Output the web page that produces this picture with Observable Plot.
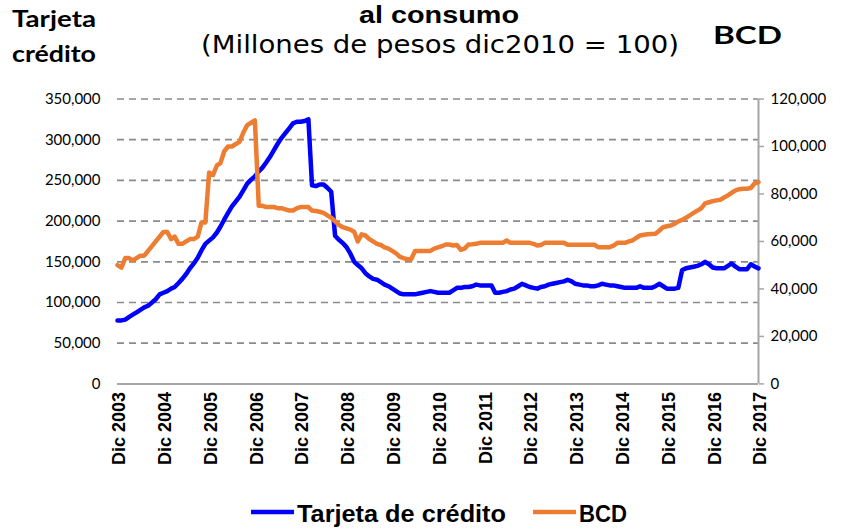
<!DOCTYPE html>
<html><head><meta charset="utf-8">
<script src="https://cdn.jsdelivr.net/npm/d3@7"></script>
<script src="https://cdn.jsdelivr.net/npm/@observablehq/plot@0.6"></script>
<style>
body{margin:0;background:#fff;}
#wrap{position:relative;width:849px;height:529px;overflow:hidden;background:#fff;}
#chart{position:absolute;left:0;top:0;}
#over{position:absolute;left:0;top:0;}
</style></head><body>
<div id="wrap"><div id="chart"></div><svg id="over" width="849" height="529"></svg></div>
<script>
// Monthly series, Dic 2003 .. Dic 2017 (values in thousands of millions of pesos)
const startYear = 2003, startMonth = 11;
const tarjeta = [78,
  78,79,82,85,88,91,94,96,100,104,110,112,
  114,117,119,124,129,135,142,148,155,164,172,176,
  180,186,193,202,210,218,224,230,238,246,251,255,
  261,266,272,279,287,295,302,308,314,320,322,322,
  323,325,244,243,245,245,241,236,182,177,173,168,
  160,150,146,142,136,132,129,128,125,122,120,117,
  114,111,110,110,110,110,111,112,113,114,113,112,
  112,112,112,115,118,118,119,119,120,122,121,121,
  121,121,112,112,113,114,116,117,120,123,121,119,
  118,117,119,120,122,123,124,125,126,128,126,123,
  122,121,121,120,120,121,123,122,121,121,120,119,
  118,118,118,118,120,118,118,118,120,123,120,117,
  117,117,118,140,142,143,144,145,147,150,147,143,
  142,142,142,145,148,144,141,141,141,147,144,142];
const bcd = [50,
  49,53,53,52,53,54,54,56,58,60,62,64,
  64,61,62,59,59,60,61,61,62,68,68,89,
  88,92,93,98,100,100,101,102,106,109,110,111,
  75,75,74.5,74.5,74.5,74,74,73.5,73,73,74,74.5,
  74.5,74.5,73,72.8,72.5,72,71,70,68.5,67,66,65.5,
  65,64,60,63,62.5,61,60,59,58.5,57.5,57,56,
  55,53.5,53,52.5,52.5,56,56,56,56,56,57,57.5,
  58,58.7,58.7,58.3,58.5,56.5,57,58.7,58.8,59,59.4,59.4,
  59.4,59.4,59.4,59.4,59.4,60.4,59.4,59.4,59.4,59.4,59.4,59.4,
  59,58.3,58.5,59.4,59.4,59.4,59.4,59.4,59.4,58.6,58.6,58.6,
  58.6,58.6,58.6,58.6,58.6,57.6,57.6,57.6,57.6,58.2,59.4,59.4,
  59.4,60,60.4,61.5,62.5,62.8,63,63.1,63.2,64.5,66,66.4,
  66.7,67.5,68.4,69.1,70,71,72,73,74,76,76.5,77,
  77.3,77.6,78.5,79.4,80.5,81.5,82,82.2,82.2,82.5,84.5,85];
const leftTicks = [0,50000,100000,150000,200000,250000,300000,350000];
const rightTicks = [0,20000,40000,60000,80000,100000,120000];
const tickYears = d3.range(2003, 2018);
const seriesNames = ["Tarjeta de crédito", "BCD"];
const seriesColors = ["#0000ff", "#ed7d31"];

const k = 350000 / 120000; // secondary axis ratio
const rows = tarjeta.map((v, i) => ({
  date: new Date(startYear, startMonth + i, 1),
  tarjeta: v * 1000,
  bcd: bcd[i] * 1000 * k
}));
const tickDates = tickYears.map(y => new Date(y, 11, 1));

const H = 480;
const chart = Plot.plot({
  width: 849, height: H,
  marginTop: 98.5, marginBottom: H - 383.4, marginLeft: 117, marginRight: 91,
  style: {fontFamily: "Lato, sans-serif", background: "transparent", color: "#000", overflow: "visible"},
  x: {type: "time", domain: [rows[0].date, rows[rows.length - 1].date]},
  y: {domain: [0, 350000]},
  marks: [
    Plot.gridY(leftTicks.slice(1), {stroke: "#8a8a8a", strokeOpacity: 1, strokeWidth: 1.7, strokeDasharray: "7,5"}),
    Plot.ruleY([0], {stroke: "#a6a6a6", strokeWidth: 2}),
    Plot.ruleX([rows[rows.length - 1].date], {stroke: "#a6a6a6", strokeWidth: 2}),
    Plot.axisY(leftTicks, {anchor: "left", tickSize: 0, tickPadding: 17, fontSize: 15,
      tickFormat: d3.format(","), label: null}),
    Plot.axisY(rightTicks.map(v => v * k), {anchor: "right", tickSize: 5, tickPadding: 7, fontSize: 15,
      stroke: "#a6a6a6", strokeWidth: 1.5,
      tickFormat: d => d3.format(",")(Math.round(d / k)), label: null}),
    Plot.axisX(tickDates, {anchor: "bottom", tickSize: 0, tickPadding: 8, tickRotate: -90, dx: 2,
      fontSize: 18, fontWeight: "bold", fontFamily: "Liberation Sans, Arial, sans-serif",
      tickFormat: d => "Dic " + d.getFullYear(), label: null}),
    Plot.lineY(rows, {x: "date", y: "tarjeta", stroke: seriesColors[0], strokeWidth: 4.5}),
    Plot.lineY(rows, {x: "date", y: "bcd", stroke: seriesColors[1], strokeWidth: 4.5})
  ]
});
document.getElementById("chart").appendChild(chart);

// Titles and legend
const svg = d3.select("#over");
function txt(x, y, s, o) {
  const t = svg.append("text").attr("x", x).attr("y", y).text(s)
    .attr("font-family", o.family).attr("font-size", o.size)
    .attr("font-weight", o.weight || "normal").attr("fill", "#000")
    .attr("text-anchor", o.anchor || "start");
  if (o.len) t.attr("textLength", o.len).attr("lengthAdjust", "spacingAndGlyphs");
  return t;
}
txt(439, 22.5, "al consumo", {family: "Liberation Sans", size: 24, weight: "bold", anchor: "middle", len: 160});
txt(440, 53, "(Millones de pesos dic2010 = 100)", {family: "DejaVu Sans", size: 24, anchor: "middle", len: 478});
txt(12, 27, "Tarjeta", {family: "Lato", size: 23, weight: "bold", len: 84});
txt(12, 62, "crédito", {family: "Lato", size: 23, weight: "bold", len: 84});
txt(713, 44, "BCD", {family: "Lato", size: 24, weight: "bold", len: 69});

const legX = [251, 533], legTextLen = [209, 48];
seriesNames.forEach((n, i) => {
  svg.append("line").attr("x1", legX[i]).attr("x2", legX[i] + 43).attr("y1", 512).attr("y2", 512)
    .attr("stroke", seriesColors[i]).attr("stroke-width", 4.5);
  txt(legX[i] + 46, 522, n, {family: "Liberation Sans", size: 23, weight: "bold", len: legTextLen[i]});
});
</script>
</body></html>
